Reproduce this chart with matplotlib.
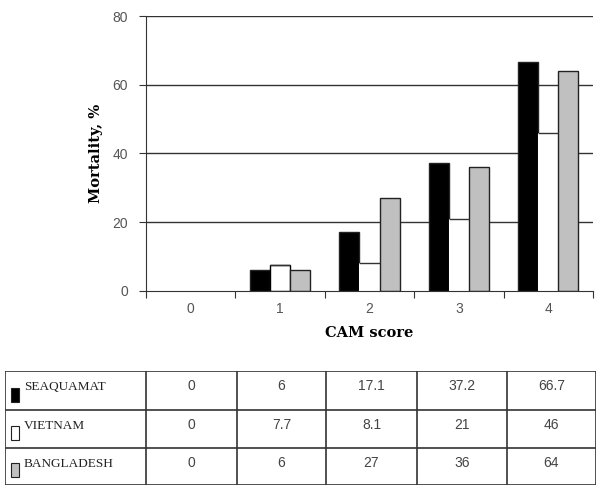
import matplotlib
matplotlib.use("Agg")
import matplotlib.pyplot as plt
import numpy as np
from matplotlib.patches import Rectangle

categories = ["0", "1", "2", "3", "4"]
series_names = ["SEAQUAMAT", "VIETNAM", "BANGLADESH"]
seaquamat = [0, 6, 17.1, 37.2, 66.7]
vietnam = [0, 7.7, 8.1, 21, 46]
bangladesh = [0, 6, 27, 36, 64]
table_text = {
    "SEAQUAMAT": ["0", "6", "17.1", "37.2", "66.7"],
    "VIETNAM": ["0", "7.7", "8.1", "21", "46"],
    "BANGLADESH": ["0", "6", "27", "36", "64"],
}
yticks = [0, 20, 40, 60, 80]

W, H = 600, 494
fig = plt.figure(figsize=(6.0, 4.94), dpi=100)

def fx(px): return px / W
def fy(py): return 1 - py / H

ax = fig.add_axes([fx(146), fy(291), fx(593) - fx(146), fy(16) - fy(291)])
x = np.arange(len(categories))
bw = 0.225
fills = ["black", "white", "#c0c0c0"]
data = [seaquamat, vietnam, bangladesh]

ax.set_xlim(-0.5, 4.5)
ax.set_ylim(0, 80)
for yv in yticks[1:]:
    ax.axhline(yv, color="#333333", lw=1.0, zorder=1)

for i, (vals, fc) in enumerate(zip(data, fills)):
    pos = x + (i - 1) * bw
    if fc == "white":
        ecs = ["black" if k == 1 else "none" for k in range(len(vals))]
        ax.bar(pos, vals, width=bw, color=fc, edgecolor=ecs, lw=1.0, zorder=2)
        for k, v in enumerate(vals):
            if v > 0:
                ax.hlines(v, pos[k] - bw / 2, pos[k] + bw / 2, color="#333333", lw=1.0, zorder=3)
    else:
        ecs = ["#222222" if v > 0 else "none" for v in vals]
        ax.bar(pos, vals, width=bw, color=fc, edgecolor=ecs, lw=1.0, zorder=2)

ax.spines["top"].set_visible(False)
ax.spines["right"].set_visible(False)
for s in ["left", "bottom"]:
    ax.spines[s].set_color("#333333")
    ax.spines[s].set_zorder(4)
ax.set_yticks(yticks)
ax.set_yticklabels([str(v) for v in yticks], family="Liberation Sans", fontsize=10, color="#555555")
ax.set_xticks(np.arange(-0.5, 5, 1.0))
ax.set_xticklabels([])
ax.set_xticks(x, minor=True)
ax.set_xticklabels(categories, minor=True, family="Liberation Sans", fontsize=10, color="#555555")
ax.tick_params(axis="x", which="minor", length=0, pad=8)
ax.tick_params(axis="x", which="major", length=5, direction="out", color="#333333")
ax.tick_params(axis="y", length=5, direction="out", color="#333333", pad=8)
ax.set_ylabel("Mortality, %", family="DejaVu Serif", fontweight="bold", fontsize=10.5, labelpad=7)
ax.set_xlabel("CAM score", family="DejaVu Serif", fontweight="bold", fontsize=10.5, labelpad=7)

# Table
tx0, tx1, ty0, ty1 = 5, 596, 371, 485
tax = fig.add_axes([fx(tx0), fy(ty1), fx(tx1) - fx(tx0), fy(ty0) - fy(ty1)])
tax.set_xlim(tx0, tx1)
tax.set_ylim(ty1, ty0)
tax.axis("off")
col_edges = [5, 146, 237, 326, 417, 507, 596]
row_edges = [371, 410, 448, 485]
for cx in col_edges:
    tax.plot([cx, cx], [row_edges[0], row_edges[-1]], color="#333333", lw=1.2, solid_capstyle="butt")
for ry in row_edges:
    tax.plot([col_edges[0], col_edges[-1]], [ry, ry], color="#333333", lw=1.2, solid_capstyle="butt")

for r, name in enumerate(series_names):
    y0, y1 = row_edges[r], row_edges[r + 1]
    tax.add_patch(Rectangle((11, y1 - 8), 8, -14, facecolor=fills[r], edgecolor="#222222", lw=0.8))
    tax.text(24, y0 + 16, name, family="Liberation Serif", fontsize=9.5, va="center", ha="left", color="#222222")
    for c, t in enumerate(table_text[name]):
        cxm = (col_edges[c + 1] + col_edges[c + 2]) / 2
        tax.text(cxm, y0 + 15, t, family="Liberation Sans", fontsize=10, ha="center", va="center", color="#444444")

fig.savefig("out.png", dpi=100)
